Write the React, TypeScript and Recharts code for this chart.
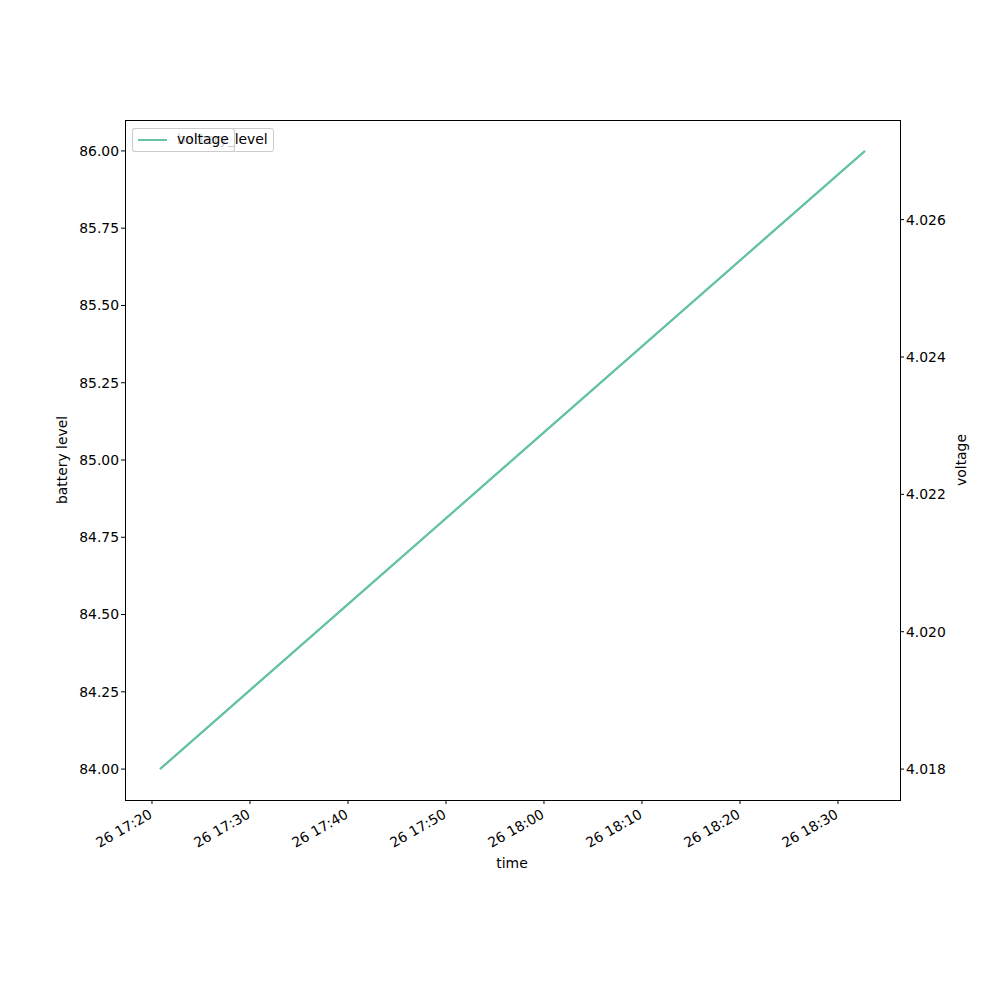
import React from 'react';
import { ComposedChart, Line, XAxis, YAxis } from 'recharts';

// readings (time of day on the 26th)
const times = ['17:20:49', '18:32:45'];
const batteryLevel = [84.0, 86.0];
const voltage = [4.018, 4.027];
const xTicks = [20, 30, 40, 50, 60, 70, 80, 90];
const leftTicks = [84.0, 84.25, 84.5, 84.75, 85.0, 85.25, 85.5, 85.75, 86.0];
const rightTicks = [4.018, 4.02, 4.022, 4.024, 4.026];

const COLOR = '#66c2a5';
const FONT = 'DejaVu Sans, sans-serif';
const FS = 13.9;

// minutes after 17:00
const toMin = (s: string) => {
  const [h, m, sec] = s.split(':').map(Number);
  return (h - 17) * 60 + m + sec / 60;
};

const fmtTime = (v: number) => {
  const h = 17 + Math.floor(v / 60);
  const m = Math.round(v % 60);
  return `26 ${h}:${String(m).padStart(2, '0')}`;
};

const data = times.map((t, i) => ({
  t: toMin(t),
  battery: batteryLevel[i],
  voltage: voltage[i],
}));

const TimeTick = (props: any) => {
  const { x, y, payload } = props;
  return (
    <g transform={`translate(${x - 4},${y + 2}) rotate(-30)`}>
      <text x={0} y={0} dy="0.75em" textAnchor="end" fontSize={FS} fill="#000" fontFamily={FONT}>
        {fmtTime(payload.value)}
      </text>
    </g>
  );
};

const LegendBox = ({ width, label }: { width: number; label: string }) => (
  <div
    style={{
      position: 'absolute',
      left: 132,
      top: 128,
      width,
      height: 24,
      boxSizing: 'border-box',
      border: '1px solid #cccccc',
      borderRadius: 3,
      background: 'rgba(255,255,255,0.8)',
      fontFamily: FONT,
      fontSize: FS,
    }}
  >
    <div style={{ position: 'absolute', left: 5, top: 10, width: 29, height: 2, background: COLOR }} />
    <div style={{ position: 'absolute', left: 44, top: 2, lineHeight: '17px', whiteSpace: 'nowrap' }}>{label}</div>
  </div>
);

export default function App() {
  return (
    <div style={{ position: 'absolute', left: 0, top: 0, width: 1000, height: 1000, background: '#fff' }}>
      <ComposedChart
        width={1000}
        height={1000}
        data={data}
        margin={{ top: 120, right: 30, bottom: 120, left: 60 }}
      >
        <XAxis
          dataKey="t"
          type="number"
          domain={[17.245, 96.33]}
          ticks={xTicks}
          tick={<TimeTick />}
          tickSize={4}
          height={80}
          axisLine={false}
          tickLine={{ stroke: '#000' }}
          allowDataOverflow
        />
        <YAxis
          yAxisId="left"
          domain={[83.9, 86.1]}
          ticks={leftTicks}
          tickFormatter={(v: number) => v.toFixed(2)}
          width={65}
          tickSize={4}
          axisLine={false}
          tickLine={{ stroke: '#000' }}
          tick={{ fill: '#000', fontSize: FS, fontFamily: FONT }}
          allowDataOverflow
        />
        <YAxis
          yAxisId="right"
          orientation="right"
          domain={[4.01755, 4.02745]}
          ticks={rightTicks}
          tickFormatter={(v: number) => v.toFixed(3)}
          width={70}
          tickSize={4}
          axisLine={false}
          tickLine={{ stroke: '#000' }}
          tick={{ fill: '#000', fontSize: FS, fontFamily: FONT }}
          allowDataOverflow
        />
        <Line
          yAxisId="left"
          dataKey="battery"
          stroke={COLOR}
          strokeWidth={2}
          dot={false}
          isAnimationActive={false}
        />
        <Line
          yAxisId="right"
          dataKey="voltage"
          stroke={COLOR}
          strokeWidth={2}
          dot={false}
          isAnimationActive={false}
        />
      </ComposedChart>
      {/* axes frame */}
      <div
        style={{
          position: 'absolute',
          left: 125,
          top: 120,
          width: 776,
          height: 681,
          boxSizing: 'border-box',
          border: '1px solid #000',
          pointerEvents: 'none',
        }}
      />
      <div style={{ position: 'absolute', left: 0, top: 855, width: 1024, textAlign: 'center', fontFamily: FONT, fontSize: FS }}>
        time
      </div>
      <div
        style={{
          position: 'absolute',
          left: 62,
          top: 460,
          transform: 'translate(-50%,-50%) rotate(-90deg)',
          fontFamily: FONT,
          fontSize: FS,
          whiteSpace: 'nowrap',
        }}
      >
        battery level
      </div>
      <div
        style={{
          position: 'absolute',
          left: 961,
          top: 460,
          transform: 'translate(-50%,-50%) rotate(-90deg)',
          fontFamily: FONT,
          fontSize: FS,
          whiteSpace: 'nowrap',
        }}
      >
        voltage
      </div>
      <LegendBox width={142} label="battery_level" />
      <LegendBox width={103} label="voltage" />
    </div>
  );
}
